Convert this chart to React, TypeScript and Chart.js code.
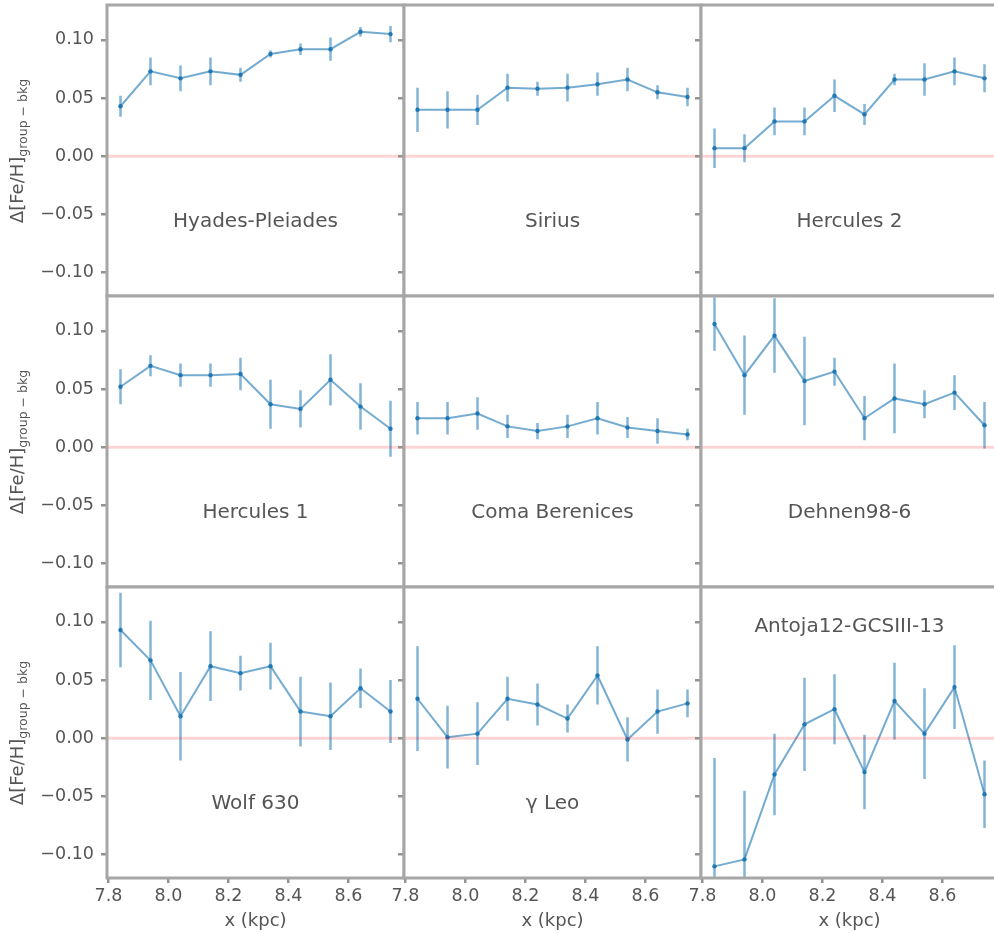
import React, { useEffect, useRef } from 'react';
import { Chart, registerables } from 'chart.js';

Chart.register(...registerables);

// ---------------- data ----------------
const xPositions = [7.84, 7.94, 8.04, 8.14, 8.24, 8.34, 8.44, 8.54, 8.64, 8.74];

const groupNames = [
  'Hyades-Pleiades', 'Sirius', 'Hercules 2',
  'Hercules 1', 'Coma Berenices', 'Dehnen98-6',
  'Wolf 630', 'γ Leo', 'Antoja12-GCSIII-13',
];

const hyadesPleiadesMean = [0.043, 0.073, 0.067, 0.073, 0.070, 0.088, 0.092, 0.092, 0.107, 0.105];
const hyadesPleiadesErr = [0.009, 0.012, 0.011, 0.012, 0.006, 0.003, 0.005, 0.010, 0.004, 0.007];

const siriusMean = [0.040, 0.040, 0.040, 0.059, 0.058, 0.059, 0.062, 0.066, 0.055, 0.051];
const siriusErr = [0.019, 0.016, 0.013, 0.012, 0.006, 0.012, 0.010, 0.010, 0.006, 0.008];

const hercules2Mean = [0.007, 0.007, 0.030, 0.030, 0.052, 0.036, 0.066, 0.066, 0.073, 0.067];
const hercules2Err = [0.017, 0.012, 0.012, 0.012, 0.014, 0.009, 0.005, 0.014, 0.012, 0.012];

const hercules1Mean = [0.052, 0.070, 0.062, 0.062, 0.063, 0.037, 0.033, 0.058, 0.035, 0.016];
const hercules1Err = [0.015, 0.009, 0.010, 0.010, 0.014, 0.021, 0.016, 0.022, 0.020, 0.024];

const comaBerenicesMean = [0.025, 0.025, 0.029, 0.018, 0.014, 0.018, 0.025, 0.017, 0.014, 0.011];
const comaBerenicesErr = [0.014, 0.014, 0.014, 0.010, 0.007, 0.010, 0.014, 0.009, 0.011, 0.005];

const dehnenMean = [0.106, 0.062, 0.096, 0.057, 0.065, 0.025, 0.042, 0.037, 0.047, 0.019];
const dehnenErr = [0.023, 0.034, 0.032, 0.038, 0.012, 0.019, 0.030, 0.012, 0.015, 0.020];

const wolf630Mean = [0.093, 0.067, 0.019, 0.062, 0.056, 0.062, 0.023, 0.019, 0.043, 0.023];
const wolf630Err = [0.032, 0.034, 0.038, 0.030, 0.015, 0.020, 0.030, 0.029, 0.017, 0.027];

const gammaLeoMean = [0.034, 0.001, 0.004, 0.034, 0.029, 0.017, 0.054, -0.001, 0.023, 0.030];
const gammaLeoErr = [0.045, 0.027, 0.027, 0.019, 0.018, 0.012, 0.025, 0.019, 0.019, 0.012];

const antojaMean = [-0.110, -0.104, -0.031, 0.012, 0.025, -0.029, 0.032, 0.004, 0.044, -0.048];
const antojaErr = [0.093, 0.059, 0.035, 0.040, 0.030, 0.032, 0.033, 0.039, 0.036, 0.029];

const yTickValues = [-0.1, -0.05, 0, 0.05, 0.1];
const yTickLabels = ['−0.10', '−0.05', '0.00', '0.05', '0.10'];
const xTickValues = [7.8, 8.0, 8.2, 8.4, 8.6];
const xTickLabels = ['7.8', '8.0', '8.2', '8.4', '8.6'];

const X_MIN = 7.795;
const X_MAX = 8.785;
const Y_MIN = -0.12;
const Y_MAX = 0.13;

const xAxisTitle = 'x (kpc)';
const yAxisMain = 'Δ[Fe/H]';
const yAxisSub = 'group − bkg';

// ---------------- layout / style ----------------
const FONT = 'DejaVu Sans';
const TEXT_COLOR = '#555555';
const FRAME_COLOR = '#a6a6a6';
const TICK_COLOR = '#939393';
const LINE_COLOR = 'rgba(31,119,180,0.62)';
const ERR_COLOR = 'rgba(31,119,180,0.55)';
const POINT_COLOR = '#1f77b4';
const ZERO_COLOR = 'rgba(255,0,0,0.17)';

const COL_LEFT = [107, 404, 701];
const ROW_TOP = [5, 296, 587];
const PW = 297;
const PH = 291;
const PAGE_H = 933;

const LABEL_Y_LOW = -0.056;
const LABEL_Y_HIGH = 0.096;

const panels = [
  { name: groupNames[0], mean: hyadesPleiadesMean, err: hyadesPleiadesErr, top: false },
  { name: groupNames[1], mean: siriusMean, err: siriusErr, top: false },
  { name: groupNames[2], mean: hercules2Mean, err: hercules2Err, top: false },
  { name: groupNames[3], mean: hercules1Mean, err: hercules1Err, top: false },
  { name: groupNames[4], mean: comaBerenicesMean, err: comaBerenicesErr, top: false },
  { name: groupNames[5], mean: dehnenMean, err: dehnenErr, top: false },
  { name: groupNames[6], mean: wolf630Mean, err: wolf630Err, top: false },
  { name: groupNames[7], mean: gammaLeoMean, err: gammaLeoErr, top: false },
  { name: groupNames[8], mean: antojaMean, err: antojaErr, top: true },
];

function geometry(r: number, c: number) {
  const leftExtra = c === 0 ? COL_LEFT[0] : r === 2 ? 26 : 10;
  const bottomExtra = r === 2 ? PAGE_H - (ROW_TOP[2] + PH) : 0;
  const padTop = 3;
  const padRight = 3;
  const padBottom = r === 2 ? 0 : 3;
  return {
    leftExtra,
    bottomExtra,
    padTop,
    padRight,
    padBottom,
    left: COL_LEFT[c] - leftExtra,
    top: ROW_TOP[r] - padTop,
    w: leftExtra + PW + padRight,
    h: padTop + PH + bottomExtra + padBottom,
  };
}

function labelFor(values: number[], labels: string[], v: number) {
  const i = values.findIndex((t) => Math.abs(t - v) < 1e-9);
  return i >= 0 ? labels[i] : '';
}

function zeroPadding(axis: any) {
  axis.paddingTop = 0;
  axis.paddingBottom = 0;
  axis.paddingLeft = 0;
  axis.paddingRight = 0;
}

function Panel({ index }: { index: number }) {
  const ref = useRef<HTMLCanvasElement>(null);
  const r = Math.floor(index / 3);
  const c = index % 3;
  const g = geometry(r, c);

  useEffect(() => {
    const canvas = ref.current;
    if (!canvas) return;
    const spec = panels[index];
    const meanPts = xPositions.map((x, i) => ({ x, y: spec.mean[i] }));
    const errPts: { x: number; y: number | null }[] = [];
    xPositions.forEach((x, i) => {
      errPts.push({ x, y: spec.mean[i] - spec.err[i] });
      errPts.push({ x, y: spec.mean[i] + spec.err[i] });
      errPts.push({ x, y: null });
    });

    const gridOpts = {
      display: true,
      drawOnChartArea: false,
      drawTicks: true,
      color: TICK_COLOR,
      lineWidth: 2.5,
    };

    const chart = new Chart(canvas, {
      type: 'line',
      data: {
        datasets: [
          {
            data: [{ x: X_MIN, y: 0 }, { x: X_MAX, y: 0 }],
            borderColor: ZERO_COLOR,
            borderWidth: 3,
            pointRadius: 0,
            order: 0,
          },
          {
            data: meanPts,
            borderColor: LINE_COLOR,
            borderWidth: 2,
            pointRadius: 2.2,
            pointBackgroundColor: POINT_COLOR,
            pointBorderWidth: 0,
            tension: 0,
            order: 1,
          },
          {
            data: errPts,
            borderColor: ERR_COLOR,
            borderWidth: 2.5,
            pointRadius: 0,
            spanGaps: false,
            tension: 0,
            order: 2,
          },
        ],
      } as any,
      options: {
        animation: false,
        responsive: false,
        maintainAspectRatio: false,
        devicePixelRatio: 1,
        events: [],
        layout: {
          autoPadding: false,
          padding: { left: 0, top: g.padTop, right: g.padRight, bottom: g.padBottom },
        },
        plugins: { legend: { display: false }, tooltip: { enabled: false }, title: { display: false } },
        scales: {
          x: {
            type: 'linear',
            min: X_MIN,
            max: X_MAX,
            display: r === 2,
            afterBuildTicks: (axis: any) => {
              axis.ticks = xTickValues.map((v) => ({ value: v }));
            },
            afterFit: (axis: any) => {
              axis.height = g.bottomExtra;
              zeroPadding(axis);
            },
            grid: { ...gridOpts, tickLength: 5 },
            border: { display: false },
            ticks: {
              autoSkip: false,
              maxRotation: 0,
              minRotation: 0,
              padding: 3,
              color: TEXT_COLOR,
              font: { family: FONT, size: 17.5 },
              callback: (v: any) => labelFor(xTickValues, xTickLabels, Number(v)),
            },
            title: {
              display: true,
              text: xAxisTitle,
              color: TEXT_COLOR,
              font: { family: FONT, size: 18 },
              padding: { top: 0, bottom: 1 },
            },
          },
          y: {
            type: 'linear',
            min: Y_MIN,
            max: Y_MAX,
            afterBuildTicks: (axis: any) => {
              axis.ticks = yTickValues.map((v) => ({ value: v }));
            },
            afterFit: (axis: any) => {
              axis.width = g.leftExtra;
              zeroPadding(axis);
            },
            grid: { ...gridOpts, tickLength: 6 },
            border: { display: false },
            ticks: {
              display: c === 0,
              padding: 7,
              color: TEXT_COLOR,
              font: { family: FONT, size: 17.5 },
              callback: (v: any) => labelFor(yTickValues, yTickLabels, Number(v)),
            },
          },
        },
      } as any,
      plugins: [
        {
          id: 'panelBackground',
          beforeDraw(ch: any) {
            const a = ch.chartArea;
            const ctx = ch.ctx;
            ctx.save();
            ctx.fillStyle = '#ffffff';
            ctx.fillRect(a.left, a.top, a.right - a.left, a.bottom - a.top);
            ctx.restore();
          },
        },
        {
          id: 'panelFrameAndLabel',
          afterDatasetsDraw(ch: any) {
            const a = ch.chartArea;
            const ctx = ch.ctx;
            ctx.save();
            const xs = ch.scales.x;
            const ys = ch.scales.y;
            ctx.fillStyle = TEXT_COLOR;
            ctx.font = `20px "${FONT}"`;
            ctx.textAlign = 'center';
            ctx.textBaseline = 'middle';
            ctx.fillText(
              spec.name,
              xs.getPixelForValue((X_MIN + X_MAX) / 2),
              ys.getPixelForValue(spec.top ? LABEL_Y_HIGH : LABEL_Y_LOW)
            );
            ctx.strokeStyle = FRAME_COLOR;
            ctx.lineWidth = 3;
            ctx.strokeRect(a.left, a.top, a.right - a.left, a.bottom - a.top);
            ctx.restore();
          },
        },
      ],
    });
    return () => chart.destroy();
  }, [index]);

  return (
    <canvas
      ref={ref}
      width={g.w}
      height={g.h}
      style={{ position: 'absolute', left: g.left, top: g.top, width: g.w, height: g.h }}
    />
  );
}

function YLabel({ row }: { row: number }) {
  const cy = ROW_TOP[row] + PH / 2;
  return (
    <div
      style={{
        position: 'absolute',
        left: 20,
        top: cy,
        transform: 'translate(-50%, -50%) rotate(-90deg)',
        whiteSpace: 'nowrap',
        fontFamily: FONT,
        fontSize: 18,
        color: TEXT_COLOR,
        lineHeight: '22px',
        width: 'max-content',
      }}
    >
      {yAxisMain}
      <sub style={{ fontSize: 12.5 }}>{yAxisSub}</sub>
    </div>
  );
}

export default function App() {
  return (
    <div
      style={{
        position: 'absolute',
        left: 0,
        top: 0,
        width: 994,
        height: 933,
        overflow: 'hidden',
        background: '#ffffff',
      }}
    >
      {panels.map((_, i) => (
        <Panel key={i} index={i} />
      ))}
      {[0, 1, 2].map((r) => (
        <YLabel key={r} row={r} />
      ))}
    </div>
  );
}
